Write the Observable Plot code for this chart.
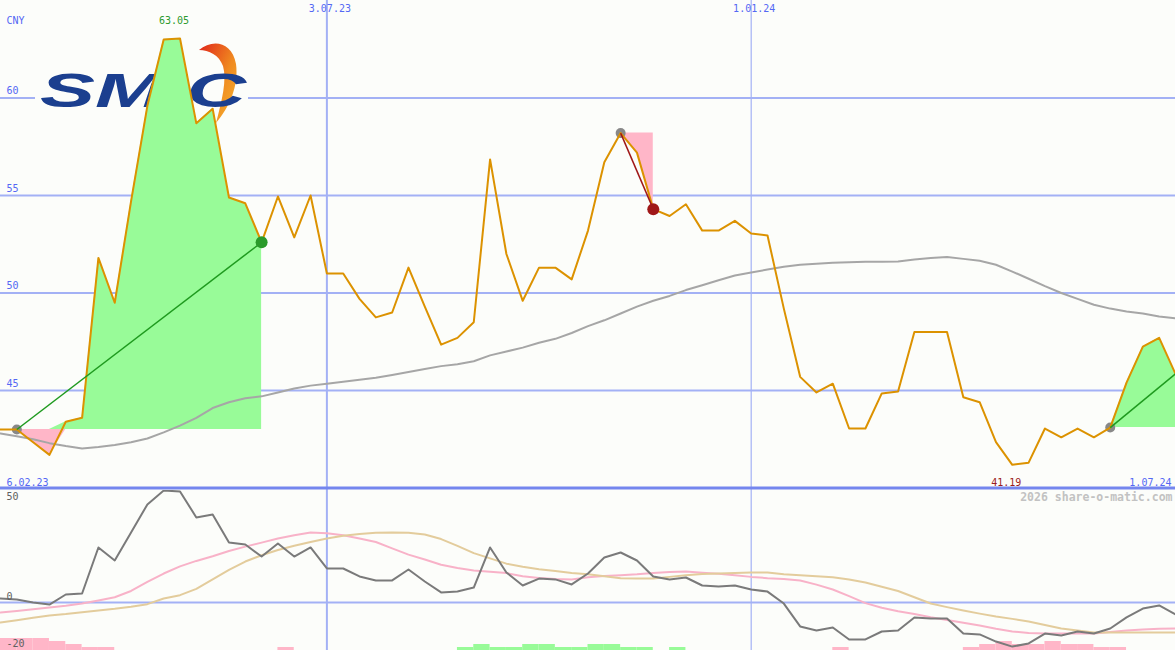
<!DOCTYPE html>
<html><head><meta charset="utf-8">
<script src="https://cdn.jsdelivr.net/npm/d3@7"></script>
<script src="https://cdn.jsdelivr.net/npm/@observablehq/plot@0.6"></script>
<style>
html,body{margin:0;padding:0;background:#fcfdfa;}
#wrap{position:relative;width:1175px;height:650px;overflow:hidden;background:#fcfdfa;}
#topPanel,#botPanel{position:absolute;left:0;}
#topPanel{top:0;}
#botPanel{top:490px;}
</style></head><body><div id="wrap"><div id="topPanel"></div><div id="botPanel"></div></div>
<script>
// ---- data (weekly closes, CNY) ----
const firstWeek = "2023-02-13";
const price = [43.0,43.0,42.35,41.7,43.4,43.6,51.8,49.5,54.7,59.6,
  63.0,63.05,58.7,59.45,54.9,54.6,52.6,54.95,52.85,55.0,
  51.0,51.0,49.7,48.75,49.0,51.3,49.3,47.35,47.7,48.5,
  56.85,52.0,49.6,51.3,51.3,50.7,53.2,56.7,58.2,57.2,
  54.3,53.95,54.55,53.2,53.2,53.7,53.05,52.95,49.2,45.7,
  44.9,45.35,43.05,43.05,44.85,44.95,48.0,48.0,48.0,44.65,
  44.4,42.35,41.19,41.3,43.05,42.6,43.05,42.6,43.1,45.4,
  47.25,47.7,45.85];
const movingAvg = [42.8,42.65,42.5,42.3,42.15,42.03,42.1,42.2,42.35,42.54,
  42.85,43.2,43.6,44.1,44.4,44.6,44.7,44.9,45.1,45.25,
  45.35,45.45,45.55,45.65,45.8,45.95,46.1,46.25,46.35,46.5,
  46.8,47.0,47.2,47.45,47.65,47.95,48.3,48.6,48.95,49.3,
  49.6,49.85,50.15,50.4,50.65,50.9,51.05,51.2,51.35,51.45,
  51.5,51.55,51.58,51.6,51.6,51.62,51.72,51.8,51.85,51.75,
  51.65,51.45,51.1,50.73,50.35,50.0,49.7,49.4,49.2,49.05,
  48.95,48.8,48.7];
const oscillator = [1.9,1.4,0,-1.0,3.8,4.3,26.2,20,33.3,46.7,
  53.3,52.9,40.5,41.9,28.6,27.6,21.9,28.1,21.9,26.2,
  16.2,16.2,12.4,10.5,10.5,15.7,10,4.8,5.2,7.1,
  26.2,14.3,8.1,11.4,11,8.6,13.8,21.4,23.8,20,
  12.4,11,11.9,8.1,7.6,8.1,6.2,5.2,-0.5,-11.4,
  -13.3,-11.9,-17.6,-17.6,-13.8,-13.3,-7.1,-7.6,-7.6,-14.8,
  -15.2,-18.6,-21,-19.5,-14.8,-15.7,-13.8,-14.8,-12.4,-7.1,
  -2.9,-1.4,-5.7];
const oscFast = [-4.8,-4.0,-3.2,-2.4,-1.6,-0.5,1.0,2.5,5.5,9.8,
  13.8,17.2,19.8,22.0,24.5,26.6,28.5,30.5,32.0,33.3,
  33.0,32.0,30.5,28.8,25.8,22.8,20.5,18.0,16.4,15.2,
  14.6,14.0,12.5,11.7,11.2,11.0,12.0,12.6,13.0,13.4,
  14.0,14.5,14.8,14.2,13.7,13.0,12.2,11.6,11.2,10.5,
  8.5,6.2,3.0,-0.3,-2.5,-4.2,-5.5,-7.0,-8.3,-9.6,
  -11.0,-12.5,-13.8,-14.5,-14.8,-14.8,-14.8,-14.8,-14.0,-13.3,
  -12.9,-12.5,-12.4];
const oscSlow = [-9.5,-8.4,-7.3,-6.2,-5.5,-4.6,-3.8,-3.0,-2.0,-0.8,
  1.9,3.5,6.5,11.0,15.5,19.5,22.5,25.0,27.0,28.8,
  30.5,31.8,32.6,33.2,33.3,33.2,32.4,30.2,27.0,23.5,
  21.0,18.5,17.0,15.8,15.0,14.0,13.5,12.5,11.6,11.4,
  11.4,12.2,13.0,13.6,13.8,14.0,14.3,14.3,13.4,13.0,
  12.5,12.0,11.0,9.5,7.5,5.5,2.5,-0.5,-2.2,-3.8,
  -5.3,-6.7,-7.8,-9.0,-10.7,-12.4,-13.3,-14.3,-14.3,-14.3,
  -14.3,-14.3,-14.3];
const signalBars = [-4,-4,-4,-3,-2,-1,-1, 0,0,0,0,0,0,0,0,0,0, -1,
  0,0,0,0,0,0,0,0,0,0,
  1,2,1,1,2,2,1,1,2,2,1,1,0,1,
  0,0,0,0,0,0,0,0,0, -1, 0,0,0,0,0,0,0,
  -1,-2,-3,-2,-2,-3,-2,-2,-1,-1, 0,0,0,0];
const priceTicks = [45,50,55,60];
const oscTicks = [50,-20];
const dateTicks = ["2023-07-03","2024-01-01"];
const dateTickLabels = ["3.07.23","1.01.24"];
const rangeLabels = ["6.02.23","1.07.24"];
const segments = [{from:1,to:16,done:true},{from:38,to:40,done:true},{from:68,to:72,done:false}];
const maxWeek = 11, minWeek = 62;

// ---- helpers ----
const t0 = new Date(firstWeek + "T00:00:00Z");
const dates = price.map((_, i) => d3.utcWeek.offset(t0, i));
const W = 1175;
const FONT = "DejaVu Sans Mono, monospace";
const BLUE = "#5468f4", GRID = "#a3b1f5", BG = "#fcfdfa";
const xScale = {type: "utc", domain: [dates[0], dates[dates.length - 1]], range: [0, W]};
const vdates = dateTicks.map(s => new Date(s + "T00:00:00Z"));

const segRows = segments.flatMap((s, k) => d3.range(s.from, s.to + 1).map(i =>
  ({date: dates[i], p: price[i], base: price[s.from], seg: k})));

// ---- top panel ----
const topChart = Plot.plot({
  width: W, height: 490,
  marginTop: 0, marginBottom: 0, marginLeft: 0, marginRight: 0,
  style: {background: BG, fontFamily: FONT, fontSize: "10px"},
  x: {...xScale, axis: null},
  y: {domain: [40, 65], range: [487.5, 0], axis: null},
  marks: [
    Plot.ruleY(priceTicks, {stroke: GRID, strokeWidth: 2}),
    Plot.ruleX([vdates[0]], {stroke: GRID, strokeWidth: 2}),
    Plot.ruleX([vdates[1]], {stroke: GRID, strokeWidth: 1.2}),
    Plot.ruleY([40], {stroke: "#7486ee", strokeWidth: 3}),
    Plot.areaY(segRows, {x: "date", y1: "base", y2: d => Math.max(d.p, d.base), z: "seg", fill: "#98fb98", curve: "linear"}),
    Plot.areaY(segRows, {x: "date", y1: "base", y2: d => Math.min(d.p, d.base), z: "seg", fill: "#ffb6c8", curve: "linear"}),
    Plot.line(movingAvg, {x: (d, i) => dates[i], y: d => d, stroke: "#a6a6a6", strokeWidth: 2}),
    Plot.dot(segments, {x: d => dates[d.from], y: d => price[d.from], r: 5, fill: "#888888"}),
    Plot.line(price, {x: (d, i) => dates[i], y: d => d, stroke: "#dc9200", strokeWidth: 2}),
    Plot.link(segments, {x1: d => dates[d.from], y1: d => price[d.from], x2: d => dates[d.to], y2: d => price[d.to],
      stroke: d => price[d.to] >= price[d.from] ? "#1f9a1f" : "#a01818", strokeWidth: 1.5}),
    Plot.dot(segments.filter(d => d.done), {x: d => dates[d.to], y: d => price[d.to], r: 6,
      fill: d => price[d.to] >= price[d.from] ? "#2a9a2a" : "#a01818"}),
    Plot.text(priceTicks, {y: d => d, text: d => String(d), frameAnchor: "left", dx: 6, dy: -7, fill: BLUE}),
    Plot.text(["CNY"], {frameAnchor: "top-left", dx: 6, dy: 16, fill: BLUE}),
    Plot.text(vdates, {x: d => d, text: (d, i) => dateTickLabels[i], frameAnchor: "top", dx: 3, dy: 4, fill: BLUE}),
    Plot.text([rangeLabels[0]], {frameAnchor: "bottom-left", dx: 6, dy: -5, fill: BLUE}),
    Plot.text([rangeLabels[1]], {frameAnchor: "bottom-right", dx: -4, dy: -5, fill: BLUE}),
    Plot.text([maxWeek], {x: d => dates[d], text: d => price[d].toFixed(2), frameAnchor: "top", dx: -6, dy: 16, fill: "#2e9a2e"}),
    Plot.text([minWeek], {x: d => dates[d], text: d => price[d].toFixed(2), frameAnchor: "bottom", dx: -6, dy: -5, fill: "#9b1c1c"})
  ]
});
document.getElementById("topPanel").appendChild(topChart);

// logo (decoration), placed beneath the data marks
(function addLogo() {
  const svg = d3.select(topChart);
  const defs = svg.insert("defs", ":first-child");
  const lg = defs.append("linearGradient").attr("id", "swoosh").attr("x1", "0").attr("y1", "0").attr("x2", "1").attr("y2", "1");
  lg.append("stop").attr("offset", "0").attr("stop-color", "#e0251a");
  lg.append("stop").attr("offset", "0.55").attr("stop-color", "#f08a20");
  lg.append("stop").attr("offset", "1").attr("stop-color", "#f5b531");
  const firstArea = topChart.querySelector('g[aria-label="area"]');
  const g = d3.create("svg:g").attr("aria-label", "logo");
  g.append("rect").attr("x", 35).attr("y", 42).attr("width", 213).attr("height", 84).attr("fill", BG);
  g.append("path").attr("d", "M199,50 C212,39 232,41 236,64 C239,86 229,108 216,123 C222,100 227,80 223,66 C219,55 209,50 199,50 Z").attr("fill", "url(#swoosh)");
  g.append("text").attr("x", 40).attr("y", 107).attr("text-anchor", "start")
    .attr("font-family", "Liberation Sans, Arial, sans-serif").attr("font-weight", "bold").attr("font-style", "italic")
    .attr("font-size", 48).attr("textLength", 206).attr("lengthAdjust", "spacingAndGlyphs")
    .attr("fill", "#1b3f8f").text("SMIC");
  if (firstArea) firstArea.parentNode.insertBefore(g.node(), firstArea);
  else topChart.appendChild(g.node());
})();

// ---- bottom panel ----
const barRows = signalBars.map((v, i) => ({i, v})).filter(d => d.v !== 0);
const OMIN = -22.857, OMAX = 53.333, UNIT = 3 / 2.1;
const botChart = Plot.plot({
  width: W, height: 160,
  marginTop: 0, marginBottom: 0, marginLeft: 0, marginRight: 0,
  style: {background: BG, fontFamily: FONT, fontSize: "10px"},
  x: {...xScale, axis: null},
  y: {domain: [OMIN, OMAX], range: [160, 0], axis: null},
  marks: [
    Plot.ruleY([0], {stroke: GRID, strokeWidth: 2}),
    Plot.ruleX([vdates[0]], {stroke: GRID, strokeWidth: 2}),
    Plot.ruleX([vdates[1]], {stroke: GRID, strokeWidth: 1.2}),
    Plot.rectY(barRows, {x1: d => dates[d.i], x2: d => d3.utcWeek.offset(dates[d.i], 1),
      y1: OMIN, y2: d => OMIN + Math.abs(d.v) * UNIT, fill: d => d.v > 0 ? "#98fb98" : "#ffb6c8", inset: 0}),
    Plot.line(oscFast, {x: (d, i) => dates[i], y: d => d, stroke: "#f8b2c8", strokeWidth: 2}),
    Plot.line(oscSlow, {x: (d, i) => dates[i], y: d => d, stroke: "#e3cc9c", strokeWidth: 2}),
    Plot.line(oscillator, {x: (d, i) => dates[i], y: d => d, stroke: "#7a7a7a", strokeWidth: 2}),
    Plot.text(oscTicks, {y: d => d, text: d => String(d), frameAnchor: "left", dx: 6, dy: -1, fill: "#606060"}),
    Plot.text([0], {y: d => d, text: d => String(d), frameAnchor: "left", dx: 6, dy: -6, fill: "#606060"}),
    Plot.text(["2026 share-o-matic.com"], {frameAnchor: "top-right", dx: -3, dy: 2, fill: "#c2c2c2",
      fontSize: 11.5, fontWeight: "bold"})
  ]
});
document.getElementById("botPanel").appendChild(botChart);
</script>
</body></html>
